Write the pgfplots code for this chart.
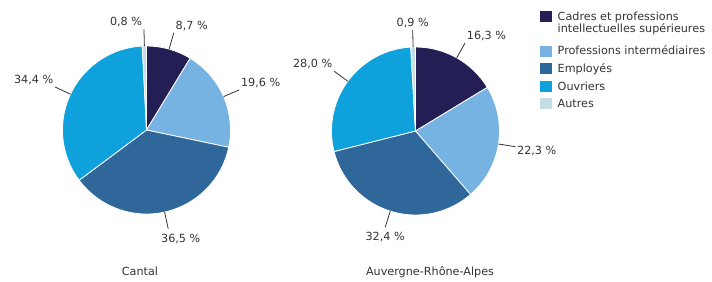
\documentclass[border=0pt]{standalone}
\usepackage{fontspec}
\setmainfont{DejaVu Sans}
\usepackage{pgfplots}
\usepackage{pgfplotstable}
\pgfplotsset{compat=1.18}
\definecolor{pie0}{HTML}{231F55}
\definecolor{pie1}{HTML}{76B3E2}
\definecolor{pie2}{HTML}{2F679B}
\definecolor{pie3}{HTML}{0EA1DB}
\definecolor{pie4}{HTML}{C7DCE5}
\definecolor{txt}{HTML}{333333}
\newcommand\lblfont{\fontsize{11.2bp}{13bp}\selectfont}
\tikzset{
  lbl/.style={font=\lblfont, text=txt},
  lbl-sw/.style={anchor=south west},
  lbl-se/.style={anchor=south east},
  lbl-s/.style={anchor=south},
  lbl-n/.style={anchor=north, yshift=-3bp},
  lbl-nw/.style={anchor=north west, xshift=-9bp, yshift=-4bp},
  lbl-w/.style={anchor=west, yshift=-4bp},
}
\pgfplotstableread{
cat value anch
Cadres 8.7 lbl-sw
Intermediaires 19.6 lbl-sw
Employes 36.5 lbl-nw
Ouvriers 34.4 lbl-se
Autres 0.8 lbl-se
}\cantal
\pgfplotstableread{
cat value anch
Cadres 16.3 lbl-sw
Intermediaires 22.3 lbl-w
Employes 32.4 lbl-n
Ouvriers 28.0 lbl-se
Autres 0.9 lbl-s
}\ara
\newcommand\drawpie[4]{%
  \pgfplotstablegetrowsof{#1}%
  \pgfmathtruncatemacro\lastrow{\pgfplotsretval-1}%
  \xdef\pietotal{0}%
  \foreach \i in {0,...,\lastrow}{%
    \pgfplotstablegetelem{\i}{value}\of{#1}%
    \pgfmathsetmacro\tmp{\pietotal+\pgfplotsretval}%
    \xdef\pietotal{\tmp}}%
  \xdef\piecum{0}%
  \foreach \i in {0,...,\lastrow}{%
    \pgfplotstablegetelem{\i}{value}\of{#1}%
    \let\val\pgfplotsretval
    \pgfplotstablegetelem{\i}{anch}\of{#1}%
    \let\anch\pgfplotsretval
    \pgfmathsetmacro\angA{90-(\piecum/\pietotal)*360}%
    \pgfmathsetmacro\angB{90-((\piecum+\val)/\pietotal)*360}%
    \pgfmathsetmacro\angM{(\angA+\angB)/2}%
    \pgfmathsetmacro\tmp{\piecum+\val}\xdef\piecum{\tmp}%
    \pgfkeys{/pgf/number format/.cd, fixed, fixed zerofill, precision=1, use comma, assume math mode=true}%
    \pgfmathprintnumberto{\val}{\lab}%
    \edef\temp{%
      \noexpand\fill[pie\i, draw=white, line width=0.8bp] (axis cs:#2,#3) -- ++(\angA:#4bp) arc[start angle=\angA, end angle=\angB, radius=#4bp] -- cycle;%
      \noexpand\draw[txt, line width=0.8bp] (axis cs:#2,#3) ++(\angM:#4bp) -- ++(\angM:17bp) node[lbl, \anch, inner sep=1.5bp] {\unexpanded\expandafter{\lab}\space\noexpand\%};%
    }\temp
  }}
\begin{document}
\begin{tikzpicture}
\begin{axis}[x=1bp, y=1bp, xmin=0, xmax=712, ymin=0, ymax=278,
  hide axis, clip=false]
\path (axis cs:0,0) rectangle (axis cs:712,278);
\drawpie{\cantal}{146.5}{148}{84}
\drawpie{\ara}{415.5}{147}{84}
% titles
\node[lbl, anchor=base] at (axis cs:140,2.5) {Cantal};
\node[lbl, anchor=base] at (axis cs:430,2.5) {Auvergne-Rhône-Alpes};
% legend
\fill[pie0] (axis cs:540,256) rectangle (axis cs:552,267);
\fill[pie1] (axis cs:540,221.5) rectangle (axis cs:552,232.5);
\fill[pie2] (axis cs:540,204) rectangle (axis cs:552,215);
\fill[pie3] (axis cs:540,186.5) rectangle (axis cs:552,197.5);
\fill[pie4] (axis cs:540,169) rectangle (axis cs:552,180);
\node[lbl, anchor=base west, inner sep=0] at (axis cs:557.5,257.5) {Cadres et professions};
\node[lbl, anchor=base west, inner sep=0] at (axis cs:557.5,245.5) {intellectuelles supérieures};
\node[lbl, anchor=base west, inner sep=0] at (axis cs:557.5,223.7) {Professions intermédiaires};
\node[lbl, anchor=base west, inner sep=0] at (axis cs:557.5,205.5) {Employés};
\node[lbl, anchor=base west, inner sep=0] at (axis cs:557.5,188) {Ouvriers};
\node[lbl, anchor=base west, inner sep=0] at (axis cs:557.5,170.7) {Autres};
\end{axis}
\end{tikzpicture}
\end{document}
